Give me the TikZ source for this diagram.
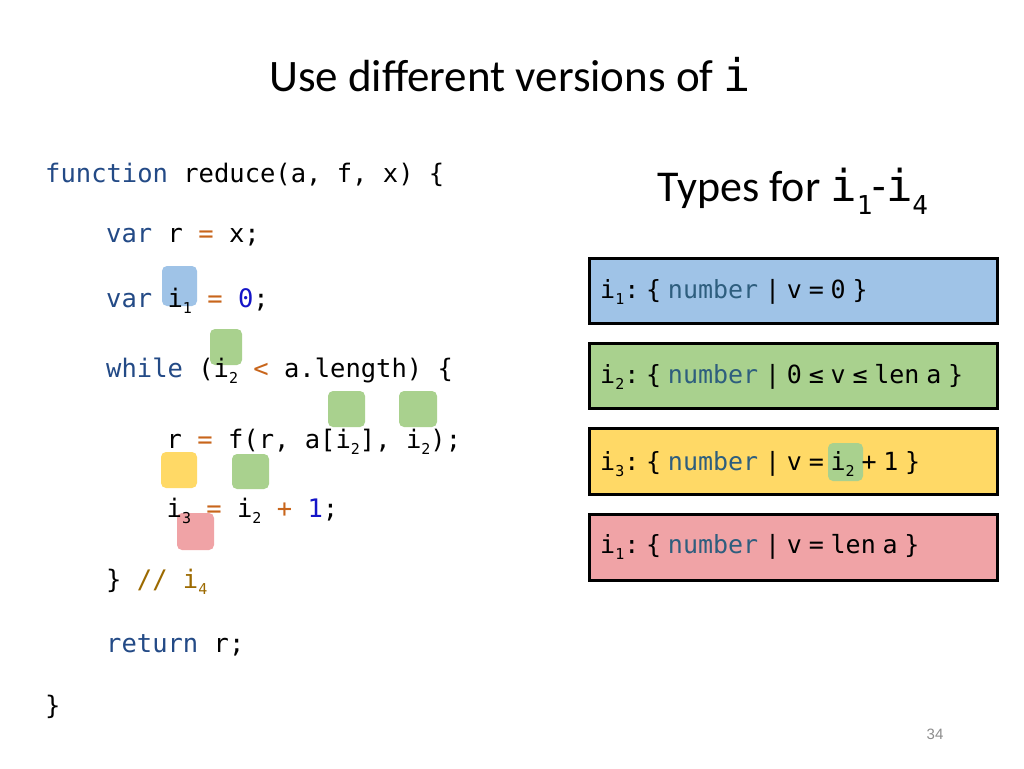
\documentclass[tikz,border=0pt]{standalone}
\usepackage{fontspec}
\setmainfont{Carlito}
\newfontfamily\codefont{DejaVu Sans Mono}
\newfontfamily\pgfont{Liberation Sans}
\definecolor{kw}{HTML}{234A86}
\definecolor{op}{HTML}{C8651B}
\definecolor{num}{HTML}{1515C8}
\definecolor{cmt}{HTML}{9C6A00}
\definecolor{tyb}{HTML}{2E5E7E}
\definecolor{hlblue}{HTML}{9FC3E7}
\definecolor{hlgreen}{HTML}{A9D18E}
\definecolor{hlyellow}{HTML}{FFD966}
\definecolor{hlred}{HTML}{F0A3A6}
\definecolor{pgnum}{HTML}{8C8C8C}
\newcommand\csub[1]{\raisebox{-0.25em}{\fontsize{15}{15}\selectfont #1}}
\newcommand\bsub[1]{\raisebox{-0.25em}{\fontsize{15}{15}\selectfont #1}}
\newcommand\tsub[1]{\raisebox{-13pt}{\fontsize{26}{26}\selectfont #1}}
\newcommand\gsp{\hspace{6.8pt}}
\newcommand\K[1]{{\color{kw}#1}}
\newcommand\OP[1]{{\color{op}#1}}
\newcommand\NUM[1]{{\color{num}#1}}
\begin{document}
\begin{tikzpicture}[x=1pt,y=-1pt,
  code/.style={anchor=base west, inner sep=0pt, font=\codefont\fontsize{25.5}{25.5}\selectfont},
  ttext/.style={anchor=base west, inner sep=0pt, font=\codefont\fontsize{25}{25}\selectfont},
  hl/.style={rounded corners=5pt},
  tbox/.style={draw=black, line width=3pt}]
\useasboundingbox[fill=white] (0,0) rectangle (1024,768);

% highlight marks in the code
\fill[hl, hlblue]   (162,266) rectangle (197,306);
\fill[hl, hlgreen]  (210,329) rectangle (242,365);
\fill[hl, hlgreen]  (328,391) rectangle (365,427);
\fill[hl, hlgreen]  (399,391) rectangle (437,427);
\fill[hl, hlyellow] (161,452) rectangle (197,488);
\fill[hl, hlgreen]  (232,454) rectangle (269,489);
\fill[hl, hlred]    (177,513) rectangle (214,550);

% title
\node[anchor=base, inner sep=0pt, font=\fontsize{45}{45}\selectfont] (title) at (510,91)
  {Use different versions of {\codefont i}};

% code
\node[code] (l1) at (45,182)  {\K{function} reduce(a, f, x) \{};
\node[code] (l2) at (106,242) {\K{var} r \OP{=} x;};
\node[code] (l3) at (106,307) {\K{var} i\csub{1} \OP{=} \NUM{0};};
\node[code] (l4) at (106,377) {\K{while} (i\csub{2} \OP{<} a.length) \{};
\node[code] (l5) at (166.5,448) {r \OP{=} f(r, a[i\csub{2}], i\csub{2});};
\node[code] (l6) at (166.5,517) {i\csub{3} \OP{=} i\csub{2} \OP{+} \NUM{1};};
\node[code] (l7) at (106,588) {\} {\color{cmt}// i\csub{4}}};
\node[code] (l8) at (106,652) {\K{return} r;};
\node[code] (l9) at (45,714)  {\}};

% types heading
\node[anchor=base, inner sep=0pt, font=\fontsize{44}{44}\selectfont] (types) at (793,201)
  {Types for {\codefont i\tsub{1}}-{\codefont i\tsub{4}}};

% type boxes
\draw[tbox, fill=hlblue]   (589,258) rectangle (997,323);
\draw[tbox, fill=hlgreen]  (589,343) rectangle (997,408);
\draw[tbox, fill=hlyellow] (589,428) rectangle (997,494);
\fill[hl, hlgreen] (828,443) rectangle (863,481);
\draw[tbox, fill=hlred]    (589,514) rectangle (997,580);

\node[ttext] (t1) at (600,298) {i\bsub{1}:\gsp\{\gsp{\color{tyb}number}\gsp|\gsp v\gsp=\gsp0\gsp\}};
\node[ttext] (t2) at (600,383) {i\bsub{2}:\gsp\{\gsp{\color{tyb}number}\gsp|\gsp 0\gsp≤\gsp v\gsp≤\gsp len\gsp a\gsp\}};
\node[ttext] (t3) at (600,470) {i\bsub{3}:\gsp\{\gsp{\color{tyb}number}\gsp|\gsp v\gsp=\gsp i\bsub{2}\gsp+\gsp1\gsp\}};
\node[ttext] (t4) at (600,553) {i\bsub{1}:\gsp\{\gsp{\color{tyb}number}\gsp|\gsp v\gsp=\gsp len\gsp a\gsp\}};

% page number
\node[inner sep=0pt, text=pgnum, font=\pgfont\fontsize{15}{15}\selectfont] (pg) at (935,734) {34};
\end{tikzpicture}
\end{document}
